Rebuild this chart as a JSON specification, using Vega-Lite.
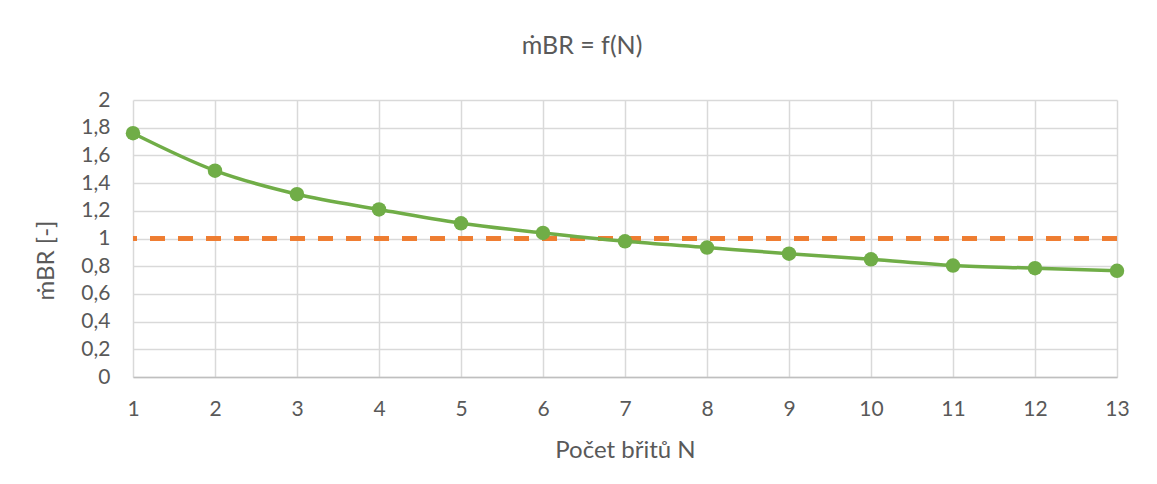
{
  "$schema": "https://vega.github.io/schema/vega-lite/v6.json",
  "autosize": {"type": "none"},
  "width": 984,
  "height": 277,
  "padding": {"left": 133, "top": 100, "right": 40, "bottom": 107},
  "background": "#ffffff",
  "title": {
    "text": "ṁBR = f(N)",
    "font": "Lato",
    "fontSize": 25,
    "fontWeight": "normal",
    "color": "#595959",
    "anchor": "middle",
    "dx": -43,
    "offset": 30
  },
  "data": {
    "values": [
      {"N": 1, "m": 1.76},
      {"N": 2, "m": 1.49},
      {"N": 3, "m": 1.32},
      {"N": 4, "m": 1.21},
      {"N": 5, "m": 1.11},
      {"N": 6, "m": 1.04},
      {"N": 7, "m": 0.98},
      {"N": 8, "m": 0.935},
      {"N": 9, "m": 0.89},
      {"N": 10, "m": 0.85},
      {"N": 11, "m": 0.805},
      {"N": 12, "m": 0.786},
      {"N": 13, "m": 0.767}
    ]
  },
  "encoding": {
    "x": {
      "field": "N",
      "type": "quantitative",
      "scale": {"domain": [1, 13], "nice": false, "zero": false},
      "axis": {
        "title": "Počet břitů N",
        "values": [1, 2, 3, 4, 5, 6, 7, 8, 9, 10, 11, 12, 13],
        "format": "d",
        "grid": true,
        "ticks": false,
        "labelFlush": false,
        "domainColor": "#bfbfbf",
        "domainWidth": 1.5,
        "labelPadding": 21,
        "titlePadding": 19
      }
    },
    "y": {
      "field": "m",
      "type": "quantitative",
      "scale": {"domain": [0, 2], "nice": false},
      "axis": {
        "title": "ṁBR [-]",
        "values": [0, 0.2, 0.4, 0.6, 0.8, 1, 1.2, 1.4, 1.6, 1.8, 2],
        "labelExpr": "replace(format(datum.value, '~g'), '.', ',')",
        "grid": true,
        "ticks": false,
        "domain": false,
        "labelPadding": 23,
        "titlePadding": 22,
        "titleY": 160
      }
    }
  },
  "layer": [
    {
      "mark": {"type": "rule", "color": "#ed7d31", "strokeWidth": 3.5, "strokeDash": [15, 13]},
      "encoding": {"y": {"datum": 1}, "x": null}
    },
    {
      "mark": {"type": "line", "color": "#70ad47", "strokeWidth": 3.5, "interpolate": "monotone"}
    },
    {
      "mark": {"type": "point", "filled": true, "color": "#70ad47", "size": 210, "opacity": 1}
    }
  ],
  "config": {
    "font": "Lato",
    "view": {"stroke": null},
    "axis": {
      "labelFont": "Lato",
      "labelFontSize": 21,
      "labelColor": "#595959",
      "titleFont": "Lato",
      "titleFontSize": 24,
      "titleFontWeight": "normal",
      "titleColor": "#595959",
      "gridColor": "#d9d9d9",
      "gridWidth": 1.5
    }
  }
}
